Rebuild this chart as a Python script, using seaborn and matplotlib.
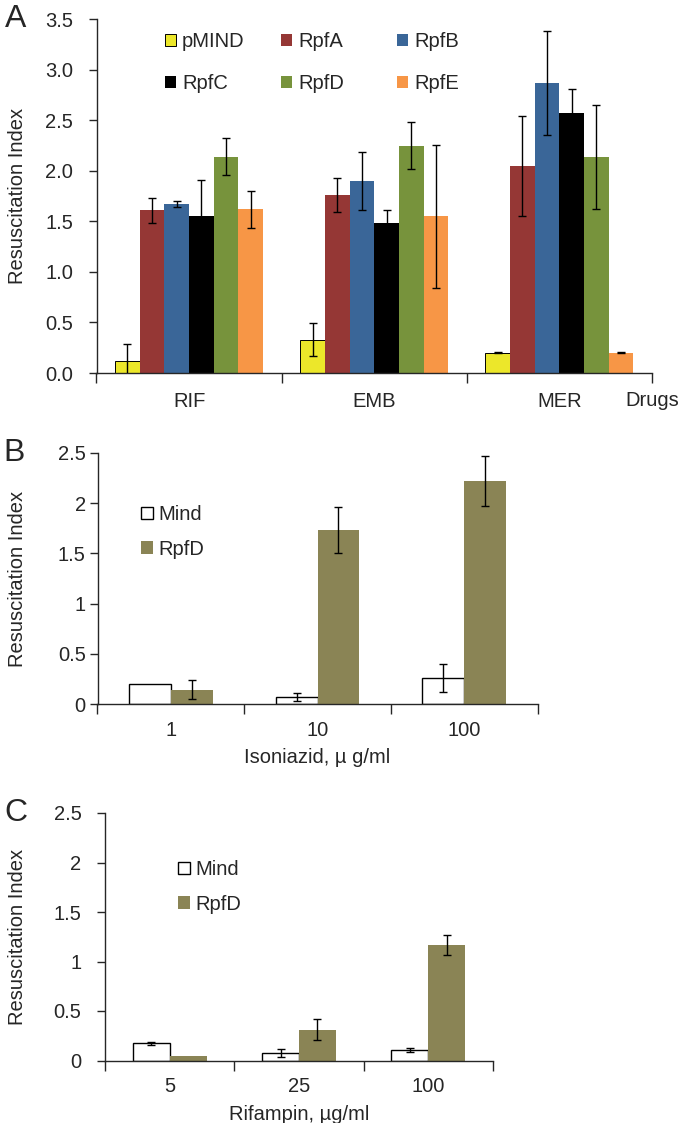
import matplotlib
matplotlib.use("Agg")
import matplotlib.pyplot as plt
from matplotlib.patches import Patch
import seaborn as sns
import pandas as pd
import numpy as np

# ---------------- data ----------------
drugs = ["RIF", "EMB", "MER"]
strains_a = ["pMIND", "RpfA", "RpfB", "RpfC", "RpfD", "RpfE"]
val_pmind = [0.12, 0.33, 0.20]
val_rpfa = [1.61, 1.76, 2.05]
val_rpfb = [1.67, 1.90, 2.87]
val_rpfc = [1.55, 1.48, 2.57]
val_rpfd = [2.14, 2.25, 2.14]
val_rpfe = [1.62, 1.55, 0.20]
err_pmind = [0.17, 0.165, 0.005]
err_rpfa = [0.125, 0.167, 0.495]
err_rpfb = [0.03, 0.29, 0.515]
err_rpfc = [0.36, 0.13, 0.245]
err_rpfd = [0.185, 0.235, 0.515]
err_rpfe = [0.185, 0.71, 0.005]
colors_a = ["#ECE72A", "#953735", "#3A6698", "#000000", "#77933C", "#F79646"]

inh_doses = ["1", "10", "100"]
inh_mind = [0.20, 0.066, 0.255]
inh_mind_err = [0.0, 0.04, 0.14]
inh_rpfd = [0.14, 1.73, 2.22]
inh_rpfd_err = [0.095, 0.23, 0.25]

rif_doses = ["5", "25", "100"]
rif_mind = [0.173, 0.078, 0.105]
rif_mind_err = [0.015, 0.04, 0.024]
rif_rpfd = [0.044, 0.31, 1.164]
rif_rpfd_err = [0.0, 0.105, 0.10]

strains_bc = ["Mind", "RpfD"]
colors_bc = ["#FFFFFF", "#8A8455"]

# ---------------- style ----------------
sns.set_style("ticks")
plt.rcParams["font.family"] = ["Liberation Sans", "DejaVu Sans"]
plt.rcParams["axes.linewidth"] = 1.0

FS = 14.5
W, H = 680, 1123
fig = plt.figure(figsize=(W / 100, H / 100), dpi=100)


def ax_at(left, right, top, bottom):
    return fig.add_axes([left / W, 1 - bottom / H, (right - left) / W, (bottom - top) / H])


def add_errbars(ax, containers, errs, cap=2.6):
    for cont, err in zip(containers, errs):
        xs = [p.get_x() + p.get_width() / 2 for p in cont.patches]
        ys = [p.get_height() for p in cont.patches]
        for x, y, e in zip(xs, ys, err):
            if e <= 0:
                continue
            ax.errorbar(x, y, yerr=e, fmt="none", ecolor="black", elinewidth=1.0,
                        capsize=cap, capthick=1.0, zorder=5)


def style_x(ax, n, left_px, width_px, xpad):
    ax.set_xlim(-0.5, n - 0.5)
    ax.tick_params(axis="x", which="major", length=0, labelsize=FS, pad=xpad)
    ax.set_xticks(np.arange(-0.5, n, 1.0), minor=True)
    ax.tick_params(axis="x", which="minor", length=7, width=1.0, direction="out")
    ax.tick_params(axis="y", length=6, width=1.0, direction="out", labelsize=FS)
    sns.despine(ax=ax)
    ax.set_ylabel("Resuscitation Index", fontsize=FS)
    ax.yaxis.label.set_verticalalignment("center")
    ax.yaxis.set_label_coords((18 - left_px) / width_px, 0.5)


# ---------------- Panel A ----------------
A_L, A_R, A_T, A_B = 96.5, 652, 19.3, 373
axA = ax_at(A_L, A_R, A_T, A_B)
rows = []
vals = [val_pmind, val_rpfa, val_rpfb, val_rpfc, val_rpfd, val_rpfe]
for s, v in zip(strains_a, vals):
    for d, y in zip(drugs, v):
        rows.append({"drug": d, "strain": s, "value": y})
dfa = pd.DataFrame(rows)
sns.barplot(data=dfa, x="drug", y="value", hue="strain", order=drugs, hue_order=strains_a,
            palette=colors_a, width=0.8, errorbar=None, linewidth=0, saturation=1,
            legend=False, ax=axA)
for p in axA.containers[0].patches:
    p.set_edgecolor("black")
    p.set_linewidth(0.7)
add_errbars(axA, axA.containers,
            [err_pmind, err_rpfa, err_rpfb, err_rpfc, err_rpfd, err_rpfe])
axA.set_ylim(0, 3.5)
axA.set_yticks(np.arange(0, 3.51, 0.5))
axA.set_yticklabels([f"{t:.1f}" for t in np.arange(0, 3.51, 0.5)])
style_x(axA, 3, A_L, A_R - A_L, 14)
axA.tick_params(axis="y", pad=11)
axA.set_xlabel("")
axA.text(1.0 - 27 / (A_R - A_L), -27 / (A_B - A_T), "Drugs", transform=axA.transAxes,
         ha="left", va="center", fontsize=FS)

# legend as three columns
col_x = [165, 281, 397]
for ci in range(3):
    idx = [ci, ci + 3]
    handles = [Patch(facecolor=colors_a[i],
                     edgecolor="black" if i == 0 else colors_a[i],
                     linewidth=0.7 if i == 0 else 0) for i in idx]
    leg = axA.legend(handles, [strains_a[i] for i in idx], loc="upper left",
                     bbox_to_anchor=((col_x[ci] - A_L) / (A_R - A_L), 1 - (32 - A_T) / (A_B - A_T)),
                     frameon=False, fontsize=FS, handlelength=0.55, handleheight=0.55,
                     handletextpad=0.3, labelspacing=1.15, borderpad=0, borderaxespad=0)
    if ci < 2:
        axA.add_artist(leg)


# ---------------- Panels B and C ----------------
def panel_bc(box, doses, mind, mind_err, rpfd, rpfd_err, xlabel, leg_x, leg_y, ypad):
    L, R, T, B = box
    ax = ax_at(L, R, T, B)
    rows = []
    for s, v in zip(strains_bc, [mind, rpfd]):
        for d, y in zip(doses, v):
            rows.append({"dose": d, "strain": s, "value": y})
    df = pd.DataFrame(rows)
    sns.barplot(data=df, x="dose", y="value", hue="strain", order=doses, hue_order=strains_bc,
                palette=colors_bc, width=0.57, errorbar=None, linewidth=0, saturation=1,
                legend=False, ax=ax)
    for p in ax.containers[0].patches:
        p.set_edgecolor("black")
        p.set_linewidth(1.0)
    add_errbars(ax, ax.containers, [mind_err, rpfd_err], cap=2.6)
    ax.set_ylim(0, 2.5)
    ax.set_yticks([0, 0.5, 1, 1.5, 2, 2.5])
    ax.set_yticklabels(["0", "0.5", "1", "1.5", "2", "2.5"])
    style_x(ax, 3, L, R - L, 12)
    ax.tick_params(axis="y", pad=ypad)
    ax.set_xlabel(xlabel, fontsize=FS, labelpad=6)
    handles = [Patch(facecolor=colors_bc[0], edgecolor="black", linewidth=1.0),
               Patch(facecolor=colors_bc[1], edgecolor=colors_bc[1], linewidth=0)]
    ax.legend(handles, strains_bc, loc="upper left",
              bbox_to_anchor=((leg_x - L) / (R - L), 1 - (leg_y - T) / (B - T)),
              frameon=False, fontsize=FS, handlelength=0.6, handleheight=0.6,
              handletextpad=0.25, labelspacing=0.78, borderpad=0, borderaxespad=0)
    return ax


axB = panel_bc((97.5, 537.5, 453, 704), inh_doses, inh_mind, inh_mind_err, inh_rpfd,
               inh_rpfd_err, "Isoniazid, \u00b5 g/ml", 141, 505, 2.5)

axC = panel_bc((105, 493, 813, 1060.5), rif_doses, rif_mind, rif_mind_err, rif_rpfd,
               rif_rpfd_err, "Rifampin, \u00b5g/ml", 178, 860, 11)

# panel letters
fig.text(5 / W, 1 - 19 / H, "A", fontsize=23, ha="left", va="center")
fig.text(3 / W, 1 - 453 / H, "B", fontsize=23, ha="left", va="center")
fig.text(4 / W, 1 - 813 / H, "C", fontsize=23, ha="left", va="center")

fig.savefig("out.png", dpi=100)
